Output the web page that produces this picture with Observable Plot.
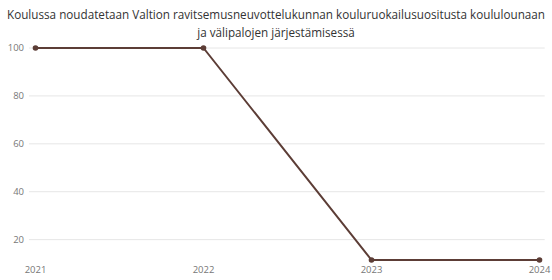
<!DOCTYPE html>
<html>
<head>
<meta charset="utf-8">
<script src="https://cdn.jsdelivr.net/npm/d3@7"></script>
<script src="https://cdn.jsdelivr.net/npm/@observablehq/plot@0.6"></script>
<style>
  html, body { margin: 0; padding: 0; background: #fff; }
  #title { width: 552px; height: 40px; box-sizing: border-box; padding-top: 5px; white-space: nowrap;
    text-align: center; font-family: "Open Sans", sans-serif; font-size: 11.7px; line-height: 18px; color: #333; }
  #chart svg { display: block; }
</style>
</head>
<body>
<div id="title">Koulussa noudatetaan Valtion ravitsemusneuvottelukunnan kouluruokailusuositusta koululounaan<br>ja välipalojen järjestämisessä</div>
<div id="chart"></div>
<script>
const years = ["2021", "2022", "2023", "2024"];
const values = [100, 100, 11.5, 11.5];
const yTicks = [20, 40, 60, 80, 100];

const data = years.map((year, i) => ({year, value: values[i]}));

const chart = Plot.plot({
  width: 552,
  height: 240,
  marginTop: 7.5,
  marginBottom: 20.5,
  marginLeft: 33.5,
  marginRight: 12.3,
  style: {fontFamily: "'Open Sans', sans-serif", fontSize: "9.5px", color: "#777", background: "#fff"},
  x: {type: "point", domain: years, padding: 0},
  y: {domain: [11.5, 100]},
  marks: [
    Plot.gridY(yTicks, {stroke: "#e6e6e6", strokeOpacity: 1, insetLeft: -4.5, insetRight: -5}),
    Plot.axisY(yTicks, {tickSize: 0, tickPadding: 10, label: null, fill: "#777"}),
    Plot.axisX({tickSize: 0, tickPadding: 6, label: null, fill: "#777"}),
    Plot.line(data, {x: "year", y: "value", stroke: "#5c3d36", strokeWidth: 2}),
    Plot.dot(data, {x: "year", y: "value", fill: "#5c3d36", r: 2.8})
  ]
});
document.getElementById("chart").appendChild(chart);
</script>
</body>
</html>
